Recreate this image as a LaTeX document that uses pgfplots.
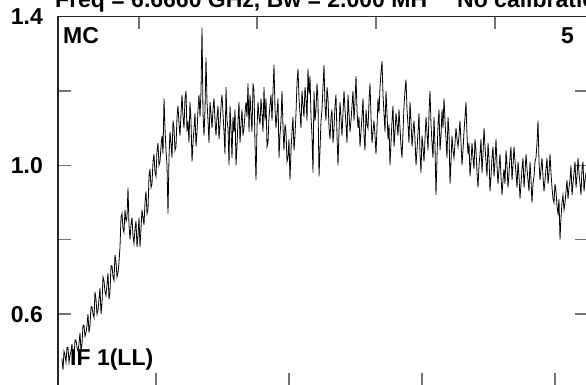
\documentclass[border=0pt]{standalone}
\usepackage{fontspec}
\setmainfont{Liberation Sans}
\usepackage{pgfplots}
\pgfplotsset{compat=1.18}
\begin{document}
\begin{tikzpicture}
\useasboundingbox (0,0) rectangle (586pt,384pt);
\clip (0,0) rectangle (586pt,384pt);
\pgfplotsset{myaxis/.style={at={(58pt,-2pt)}, anchor=south west, scale only axis,
  width=530pt, height=369.5pt, xmin=58, xmax=588, ymin=0.4067, ymax=1.4,
  axis line style={black!85, line width=1.3pt},
  tick style={black!55, line width=1.3pt}, tick align=inside, major tick length=13pt}}
\begin{axis}[myaxis, xtick={156,289,422,555}, xticklabels={}, xtick pos=left,
  ytick={0.6,0.8,1.0,1.2,1.4}, yticklabels={0.6,,1.0,,1.4}, ytick pos=both, yticklabel pos=left,
  /pgf/number format/assume math mode=true,
  yticklabel style={font=\fontsize{23}{23}\selectfont\bfseries, inner sep=0pt, xshift=-15pt}]
\addplot[black, line width=0.8pt, mark=none] coordinates {
(62,0.48)(63,0.45)(64,0.50)(65,0.49)(66,0.47)(67,0.51)(68,0.51)(69,0.47)(70,0.49)(71,0.50)
(72,0.52)(73,0.47)(74,0.48)(75,0.53)(76,0.53)(77,0.51)(78,0.50)(79,0.52)(80,0.55)(81,0.50)
(82,0.52)(83,0.57)(84,0.57)(85,0.54)(86,0.55)(87,0.57)(88,0.60)(89,0.55)(90,0.57)(91,0.62)
(92,0.62)(93,0.60)(94,0.59)(95,0.66)(96,0.64)(97,0.60)(98,0.61)(99,0.64)(100,0.67)(101,0.60)
(102,0.63)(103,0.70)(104,0.69)(105,0.66)(106,0.65)(107,0.68)(108,0.71)(109,0.64)(110,0.66)(111,0.73)
(112,0.73)(113,0.70)(114,0.69)(115,0.76)(116,0.74)(117,0.70)(118,0.71)(119,0.74)(120,0.78)(121,0.86)
(122,0.87)(123,0.83)(124,0.82)(125,0.88)(126,0.85)(127,0.86)(128,0.94)(129,0.84)(130,0.80)(131,0.84)
(132,0.86)(133,0.81)(134,0.79)(135,0.83)(136,0.85)(137,0.78)(138,0.81)(139,0.86)(140,0.78)(141,0.83)
(142,0.88)(143,0.86)(144,0.84)(145,0.90)(146,0.93)(147,0.87)(148,0.88)(149,0.97)(150,0.99)(151,0.94)
(152,0.95)(153,1.01)(154,1.03)(155,0.98)(156,0.97)(157,1.04)(158,1.06)(159,1.00)(160,1.01)(161,1.05)
(162,1.08)(163,1.03)(164,1.18)(165,1.10)(166,1.04)(167,1.00)(168,0.87)(169,1.02)(170,1.09)(171,1.06)
(172,1.02)(173,1.12)(174,1.10)(175,1.04)(176,1.05)(177,1.13)(178,1.16)(179,1.11)(180,1.08)(181,1.14)
(182,1.19)(183,1.13)(184,1.10)(185,1.18)(186,1.20)(187,1.09)(188,1.12)(189,1.06)(190,1.17)(191,1.12)
(192,1.01)(193,1.06)(194,1.10)(195,1.14)(196,1.05)(197,1.09)(198,1.15)(199,1.19)(200,1.13)(201,1.20)
(202,1.37)(203,1.14)(204,1.08)(205,1.15)(206,1.29)(207,1.17)(208,1.12)(209,1.06)(210,1.17)(211,1.14)
(212,1.10)(213,1.15)(214,1.18)(215,1.12)(216,1.08)(217,1.13)(218,1.16)(219,1.07)(220,1.11)(221,1.16)
(222,1.19)(223,1.14)(224,1.09)(225,1.03)(226,1.21)(227,1.12)(228,1.10)(229,1.00)(230,1.16)(231,1.10)
(232,1.02)(233,1.13)(234,1.09)(235,1.15)(236,1.00)(237,1.05)(238,1.12)(239,1.17)(240,1.06)(241,1.11)
(242,1.15)(243,1.08)(244,1.10)(245,1.14)(246,1.17)(247,1.13)(248,1.22)(249,1.09)(250,1.19)(251,1.14)
(252,1.09)(253,1.22)(254,1.20)(255,1.06)(256,0.96)(257,1.10)(258,1.17)(259,1.13)(260,1.11)(261,1.18)
(262,1.14)(263,1.09)(264,1.21)(265,1.12)(266,1.18)(267,1.05)(268,1.06)(269,1.13)(270,1.16)(271,1.19)
(272,1.12)(273,1.20)(274,1.27)(275,1.15)(276,1.10)(277,1.14)(278,1.18)(279,1.02)(280,1.08)(281,1.12)
(282,1.20)(283,1.10)(284,1.04)(285,1.11)(286,1.09)(287,1.01)(288,1.02)(289,1.07)(290,0.96)(291,1.04)
(292,1.09)(293,1.13)(294,1.04)(295,1.08)(296,1.14)(297,1.22)(298,1.26)(299,1.18)(300,1.14)(301,1.10)
(302,1.20)(303,1.16)(304,1.13)(305,1.21)(306,1.18)(307,1.12)(308,1.26)(309,1.19)(310,1.24)(311,1.13)
(312,1.08)(313,0.98)(314,1.20)(315,1.12)(316,1.15)(317,1.22)(318,1.17)(319,0.97)(320,1.04)(321,1.12)
(322,1.15)(323,1.21)(324,1.27)(325,1.16)(326,1.12)(327,1.21)(328,1.18)(329,1.10)(330,1.07)(331,1.13)
(332,1.15)(333,1.06)(334,1.10)(335,1.16)(336,1.19)(337,1.08)(338,1.00)(339,1.09)(340,1.17)(341,1.13)
(342,1.08)(343,1.14)(344,1.20)(345,1.15)(346,1.11)(347,1.06)(348,1.19)(349,1.14)(350,1.09)(351,1.12)
(352,1.16)(353,1.20)(354,1.12)(355,1.17)(356,1.24)(357,1.15)(358,1.10)(359,1.13)(360,1.05)(361,1.09)
(362,1.13)(363,1.18)(364,1.08)(365,1.04)(366,1.15)(367,1.11)(368,1.10)(369,1.17)(370,1.22)(371,1.13)
(372,1.06)(373,1.09)(374,1.12)(375,1.08)(376,1.03)(377,1.10)(378,1.18)(379,1.14)(380,1.21)(381,1.25)
(382,1.28)(383,1.19)(384,1.14)(385,1.09)(386,1.20)(387,1.14)(388,1.07)(389,1.11)(390,1.00)(391,1.06)
(392,1.12)(393,1.16)(394,1.05)(395,1.09)(396,1.14)(397,1.11)(398,1.08)(399,1.15)(400,1.10)(401,1.05)
(402,1.02)(403,1.09)(404,1.16)(405,1.20)(406,1.23)(407,1.15)(408,1.11)(409,1.06)(410,1.17)(411,1.12)
(412,1.05)(413,1.09)(414,1.12)(415,1.07)(416,1.00)(417,1.04)(418,1.09)(419,1.14)(420,1.03)(421,0.98)
(422,1.08)(423,1.05)(424,1.01)(425,1.07)(426,1.13)(427,1.09)(428,1.04)(429,1.14)(430,1.20)(431,1.11)
(432,1.06)(433,1.02)(434,1.13)(435,1.05)(436,0.92)(437,1.02)(438,1.11)(439,1.15)(440,1.04)(441,1.08)
(442,1.15)(443,1.10)(444,1.18)(445,1.12)(446,1.07)(447,1.02)(448,1.13)(449,1.09)(450,0.95)(451,1.01)
(452,1.08)(453,1.04)(454,1.02)(455,1.06)(456,1.10)(457,1.07)(458,1.05)(459,1.08)(460,1.12)(461,1.06)
(462,1.00)(463,1.04)(464,1.09)(465,1.13)(466,1.17)(467,1.08)(468,1.03)(469,1.06)(470,0.97)(471,1.01)
(472,1.06)(473,1.02)(474,0.99)(475,1.07)(476,1.04)(477,0.98)(478,0.94)(479,1.00)(480,1.03)(481,1.07)
(482,0.98)(483,1.03)(484,1.10)(485,1.05)(486,1.01)(487,0.97)(488,1.06)(489,1.02)(490,0.93)(491,0.97)
(492,1.02)(493,1.05)(494,0.97)(495,1.01)(496,1.07)(497,1.00)(498,0.95)(499,0.99)(500,1.03)(501,0.97)
(502,0.92)(503,0.96)(504,0.99)(505,0.95)(506,1.04)(507,1.00)(508,0.94)(509,0.98)(510,1.02)(511,1.05)
(512,0.96)(513,1.00)(514,1.05)(515,1.01)(516,0.98)(517,0.94)(518,1.01)(519,0.97)(520,0.91)(521,0.95)
(522,0.99)(523,1.02)(524,0.94)(525,0.98)(526,1.03)(527,0.99)(528,0.96)(529,0.93)(530,1.01)(531,0.96)
(532,0.90)(533,0.95)(534,0.97)(535,1.01)(536,1.02)(537,1.06)(538,1.12)(539,1.01)(540,0.96)(541,0.99)
(542,1.02)(543,0.97)(544,0.93)(545,0.96)(546,0.99)(547,1.02)(548,0.95)(549,0.98)(550,1.03)(551,0.98)
(552,0.94)(553,0.91)(554,0.90)(555,0.95)(556,0.93)(557,0.89)(558,0.87)(559,0.91)(560,0.80)(561,0.86)
(562,0.90)(563,0.92)(564,0.88)(565,0.90)(566,0.93)(567,0.96)(568,0.91)(569,0.94)(570,0.96)(571,1.00)
(572,0.92)(573,0.95)(574,0.98)(575,1.01)(576,0.94)(577,0.97)(578,1.02)(579,0.98)(580,0.95)(581,0.92)
(582,0.99)(583,1.01)(584,0.93)(585,0.96)(586,0.98)
};
\end{axis}
\begin{axis}[myaxis, xtick={139,257,376,495}, xticklabels={}, xtick pos=right, ytick=\empty]
\end{axis}
\node[anchor=base west, inner sep=0pt, font=\fontsize{23}{23}\selectfont\bfseries] at (55pt,377pt) {Freq = 6.6660 GHz, Bw = 2.000 MH"};
\node[anchor=base west, inner sep=0pt, font=\fontsize{23}{23}\selectfont\bfseries] at (457pt,377pt) {No calibration};
\node[anchor=base west, inner sep=0pt, font=\fontsize{23}{23}\selectfont\bfseries] at (63pt,341pt) {MC};
\node[anchor=base west, inner sep=0pt, font=\fontsize{23}{23}\selectfont\bfseries] at (561pt,341pt) {5};
\node[anchor=base west, inner sep=0pt, font=\fontsize{23}{23}\selectfont\bfseries] at (70pt,19pt) {IF 1(LL)};
\end{tikzpicture}
\end{document}
